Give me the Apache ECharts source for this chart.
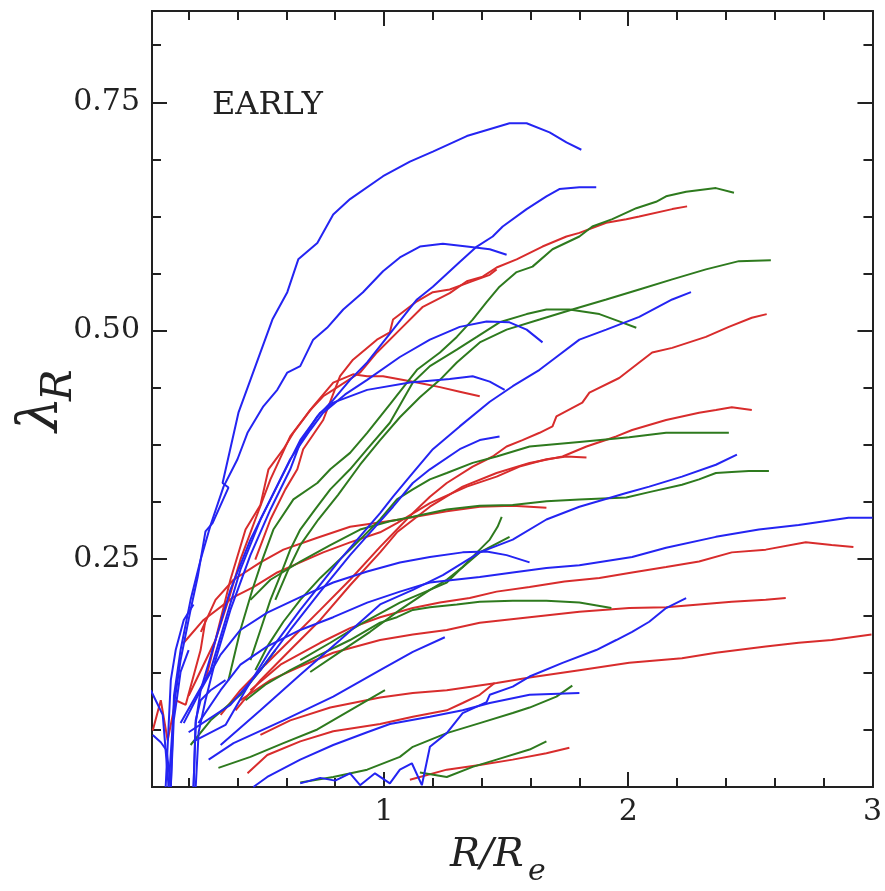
<!DOCTYPE html>
<html><head><meta charset="utf-8">
<script src="https://cdn.jsdelivr.net/npm/echarts@6/dist/echarts.min.js"></script>
<style>html,body{margin:0;padding:0;background:#fff}#c{width:885px;height:891px}</style>
</head><body><div id="c"></div>
<script>
// ---- axis ticks ----
const xMajor = [1, 2, 3];
const xMinor = [0.2,0.4,0.6,0.8,1.2,1.4,1.6,1.8,2.2,2.4,2.6,2.8];
const yMajor = [0.25, 0.5, 0.75];
const yMinor = [0.0625,0.125,0.1875,0.3125,0.375,0.4375,0.5625,0.625,0.6875,0.8125];

// ---- blue curves ----
const blue1 = [[0.118,0],[0.14,0.09],[0.167,0.139],[0.208,0.194],[0.237,0.230],[0.269,0.280],[0.298,0.289],[0.363,0.328],[0.339,0.333],[0.404,0.410],[0.453,0.446],[0.494,0.476],[0.543,0.512],[0.604,0.542],[0.649,0.578],[0.727,0.596],[0.792,0.627],[0.861,0.644],[0.996,0.669],[1.106,0.685],[1.2,0.696],[1.339,0.713],[1.514,0.727],[1.584,0.727],[1.678,0.717],[1.747,0.706],[1.808,0.698]];
const blue2 = [[0.229,0],[0.241,0.06],[0.269,0.095],[0.310,0.139],[0.371,0.194],[0.453,0.254],[0.535,0.304],[0.616,0.348],[0.657,0.377],[0.727,0.406],[0.792,0.424],[0.861,0.446],[0.931,0.465],[1.037,0.501],[1.135,0.534],[1.2,0.548],[1.310,0.575],[1.380,0.592],[1.445,0.603],[1.486,0.614],[1.584,0.633],[1.665,0.647],[1.718,0.655],[1.8,0.657],[1.869,0.657]];
const blue3 = [[0.127,0],[0.14,0.1],[0.167,0.150],[0.208,0.205],[0.249,0.249],[0.290,0.287],[0.343,0.329],[0.400,0.359],[0.441,0.388],[0.506,0.417],[0.563,0.435],[0.604,0.454],[0.657,0.461],[0.710,0.490],[0.767,0.503],[0.833,0.523],[0.914,0.542],[0.996,0.565],[1.065,0.580],[1.147,0.592],[1.241,0.595],[1.339,0.592],[1.433,0.589],[1.502,0.583]];
const blue4 = [[0.220,0],[0.229,0.07],[0.249,0.106],[0.310,0.161],[0.371,0.216],[0.453,0.271],[0.535,0.315],[0.616,0.359],[0.698,0.391],[0.751,0.410],[0.841,0.430],[0.931,0.446],[1.065,0.471],[1.188,0.490],[1.310,0.504],[1.420,0.510],[1.514,0.509],[1.584,0.501],[1.649,0.487]];
const blue5 = [[0.22,0.05],[0.351,0.068],[0.433,0.106],[0.535,0.150],[0.657,0.194],[0.820,0.249],[0.984,0.300],[1.037,0.318],[1.118,0.344],[1.2,0.370],[1.310,0.395],[1.433,0.422],[1.527,0.439],[1.637,0.457],[1.706,0.471],[1.8,0.490],[1.910,0.501],[2.045,0.515],[2.180,0.534],[2.257,0.542]];
const blue6 = [[0.167,0.07],[0.290,0.128],[0.351,0.183],[0.412,0.238],[0.494,0.293],[0.576,0.337],[0.657,0.380],[0.739,0.410],[0.792,0.421],[0.931,0.435],[1.106,0.443],[1.269,0.447],[1.363,0.450],[1.433,0.444],[1.494,0.435]];
const blue7 = [[0.2,0.06],[0.371,0.090],[0.494,0.128],[0.616,0.172],[0.739,0.214],[0.861,0.254],[0.984,0.291],[1.037,0.307],[1.118,0.333],[1.188,0.348],[1.310,0.370],[1.392,0.380],[1.473,0.384]];
const blue8 = [[0.18,0.07],[0.249,0.106],[0.331,0.145],[0.412,0.172],[0.522,0.191],[0.657,0.208],[0.792,0.224],[0.931,0.236],[1.065,0.246],[1.188,0.252],[1.322,0.257],[1.420,0.258],[1.502,0.254],[1.596,0.246]];
const blue9 = [[0.24,0.07],[0.331,0.106],[0.412,0.134],[0.522,0.154],[0.657,0.172],[0.792,0.186],[0.931,0.202],[1.065,0.214],[1.188,0.224],[1.392,0.230],[1.527,0.235],[1.665,0.240],[1.8,0.243],[2.016,0.252],[2.155,0.262],[2.359,0.274],[2.535,0.282],[2.698,0.287],[2.902,0.295],[3.0,0.295]];
const blue10 = [[0.657,0.004],[0.739,0.010],[0.8,0.007],[0.861,0.015],[0.902,0.002],[0.963,0.015],[1.024,0.004],[1.065,0.019],[1.114,0.026],[1.155,0.002],[1.188,0.044],[1.257,0.059],[1.322,0.081],[1.420,0.093],[1.433,0.101],[1.527,0.110],[1.596,0.121],[1.731,0.136],[1.869,0.150],[1.951,0.161],[2.016,0.170],[2.086,0.181],[2.155,0.196],[2.237,0.207]];
const blue11 = [[0.465,0],[0.522,0.011],[0.657,0.030],[0.792,0.046],[0.931,0.060],[1.024,0.069],[1.188,0.077],[1.322,0.084],[1.433,0.092],[1.596,0.101],[1.8,0.103]];
const blue12 = [[0.282,0.030],[0.384,0.048],[0.588,0.073],[0.792,0.099],[0.984,0.128],[1.118,0.148],[1.249,0.164]];
const blue13 = [[0.331,0.046],[0.494,0.084],[0.657,0.123],[0.820,0.161],[0.984,0.200],[1.118,0.216],[1.241,0.232],[1.392,0.257],[1.527,0.271],[1.665,0.293],[1.8,0.307],[1.992,0.322],[2.086,0.329],[2.220,0.340],[2.359,0.353],[2.445,0.364]];
const blueS1 = [[0.045,0.106],[0.065,0.095],[0.094,0.079],[0.118,0.0]];
const blueS2 = [[0.053,0.057],[0.086,0.049],[0.110,0.040],[0.127,0.0],[0.139,0.073],[0.151,0.095],[0.167,0.126],[0.2,0.15]];
const blueS3 = [[0.106,0],[0.127,0.117],[0.147,0.150],[0.180,0.183],[0.22,0.2]];
const blueS4 = [[0.220,0],[0.229,0.073],[0.249,0.095],[0.290,0.106],[0.351,0.117]];

// ---- red curves ----
const red1 = [[0.2,0.1],[0.310,0.161],[0.371,0.227],[0.433,0.282],[0.494,0.309],[0.527,0.348],[0.588,0.370],[0.629,0.388],[0.698,0.413],[0.751,0.428],[0.792,0.435],[0.902,0.454],[0.971,0.476],[1.065,0.501],[1.159,0.526],[1.269,0.541],[1.339,0.554],[1.404,0.559],[1.461,0.569],[1.543,0.578],[1.649,0.592],[1.747,0.603],[1.800,0.607],[1.910,0.618],[1.992,0.622],[2.045,0.625],[2.180,0.633],[2.241,0.636]];
const red2 = [[0.473,0.249],[0.535,0.293],[0.596,0.326],[0.645,0.348],[0.669,0.370],[0.751,0.402],[0.820,0.450],[0.873,0.468],[0.971,0.490],[1.024,0.498],[1.037,0.512],[1.135,0.532],[1.2,0.542],[1.269,0.545],[1.351,0.553],[1.433,0.561],[1.461,0.567]];
const red3 = [[0.269,0.117],[0.310,0.161],[0.363,0.205],[0.412,0.249],[0.473,0.293],[0.535,0.337],[0.616,0.384],[0.710,0.417],[0.792,0.443],[0.873,0.452],[0.931,0.450],[0.996,0.450],[1.135,0.443],[1.229,0.438],[1.310,0.433],[1.392,0.428]];
const red4 = [[0.331,0.079],[0.412,0.106],[0.514,0.134],[0.616,0.161],[0.739,0.194],[0.861,0.227],[0.984,0.263],[1.053,0.282],[1.118,0.300],[1.188,0.318],[1.257,0.333],[1.363,0.351],[1.445,0.362],[1.502,0.373],[1.567,0.380],[1.637,0.388],[1.690,0.395],[1.706,0.406],[1.812,0.421],[1.841,0.432],[1.963,0.448],[2.045,0.465],[2.098,0.476],[2.180,0.481],[2.318,0.493],[2.412,0.504],[2.506,0.514],[2.567,0.518]];
const red5 = [[0.392,0.084],[0.494,0.117],[0.616,0.150],[0.739,0.183],[0.861,0.221],[0.984,0.257],[1.053,0.279],[1.188,0.307],[1.322,0.329],[1.461,0.344],[1.596,0.355],[1.731,0.362],[1.829,0.373],[1.951,0.384],[2.016,0.391],[2.155,0.402],[2.290,0.410],[2.359,0.413],[2.424,0.416],[2.506,0.413]];
const red6 = [[0.180,0.158],[0.261,0.183],[0.384,0.208],[0.465,0.219],[0.563,0.235],[0.657,0.246],[0.751,0.257],[0.861,0.268],[0.984,0.279],[1.053,0.289],[1.188,0.311],[1.339,0.329],[1.461,0.340],[1.555,0.351],[1.665,0.359],[1.747,0.362],[1.829,0.361]];
const red7 = [[0.25,0.17],[0.31,0.205],[0.384,0.227],[0.494,0.246],[0.588,0.260],[0.727,0.273],[0.861,0.285],[1.065,0.293],[1.257,0.302],[1.392,0.307],[1.527,0.308],[1.665,0.306]];
const red8 = [[0.453,0.106],[0.576,0.134],[0.739,0.158],[0.861,0.174],[0.984,0.186],[1.118,0.196],[1.229,0.202],[1.351,0.207],[1.461,0.214],[1.596,0.219],[1.739,0.225],[1.882,0.229],[2.016,0.235],[2.155,0.241],[2.290,0.247],[2.424,0.257],[2.563,0.260],[2.727,0.268],[2.833,0.265],[2.922,0.263]];
const red9 = [[0.412,0.095],[0.535,0.117],[0.657,0.132],[0.792,0.147],[0.984,0.161],[1.118,0.167],[1.257,0.172],[1.392,0.180],[1.596,0.186],[1.8,0.192],[2.004,0.196],[2.155,0.197],[2.290,0.200],[2.424,0.203],[2.563,0.205],[2.645,0.207]];
const red10 = [[0.494,0.057],[0.616,0.073],[0.780,0.087],[0.984,0.098],[1.118,0.103],[1.257,0.106],[1.461,0.114],[1.596,0.120],[1.8,0.128],[2.004,0.136],[2.220,0.141],[2.359,0.147],[2.563,0.154],[2.698,0.158],[2.833,0.161],[2.996,0.167]];
const red11 = [[0.441,0.015],[0.522,0.035],[0.657,0.050],[0.792,0.061],[0.984,0.069],[1.118,0.077],[1.257,0.084],[1.322,0.092],[1.392,0.101],[1.453,0.114]];
const red12 = [[1.106,0.008],[1.257,0.019],[1.392,0.024],[1.527,0.030],[1.665,0.037],[1.759,0.043]];
const redS1 = [[0.053,0.062],[0.086,0.095],[0.114,0.051],[0.147,0.095],[0.188,0.090],[0.249,0.150],[0.269,0.183]];

// ---- green curves ----
const green1 = [[0.363,0.117],[0.412,0.172],[0.461,0.216],[0.502,0.249],[0.547,0.282],[0.629,0.315],[0.727,0.333],[0.780,0.348],[0.861,0.366],[0.931,0.388],[1.024,0.419],[1.135,0.457],[1.229,0.476],[1.298,0.493],[1.363,0.512],[1.420,0.531],[1.473,0.548],[1.543,0.564],[1.608,0.570],[1.690,0.589],[1.8,0.603],[1.853,0.614],[1.935,0.622],[2.033,0.634],[2.114,0.641],[2.155,0.647],[2.237,0.652],[2.359,0.656],[2.433,0.651]];
const green2 = [[0.453,0.139],[0.494,0.172],[0.535,0.205],[0.576,0.232],[0.616,0.260],[0.657,0.282],[0.718,0.304],[0.780,0.326],[0.861,0.348],[0.931,0.370],[1.024,0.399],[1.118,0.443],[1.188,0.461],[1.298,0.479],[1.380,0.493],[1.473,0.509],[1.584,0.518],[1.665,0.523],[1.759,0.523],[1.882,0.518],[1.963,0.510],[2.033,0.503]];
const green3 = [[0.555,0.205],[0.608,0.238],[0.657,0.265],[0.731,0.293],[0.812,0.320],[0.902,0.353],[0.984,0.380],[1.065,0.405],[1.147,0.427],[1.229,0.446],[1.298,0.465],[1.392,0.487],[1.502,0.501],[1.637,0.512],[1.771,0.523],[1.910,0.534],[2.045,0.545],[2.180,0.556],[2.318,0.567],[2.453,0.576],[2.584,0.577]];
const green4 = [[0.473,0.128],[0.527,0.156],[0.588,0.181],[0.657,0.205],[0.739,0.229],[0.861,0.260],[0.984,0.293],[1.053,0.315],[1.118,0.326],[1.188,0.337],[1.257,0.344],[1.363,0.355],[1.461,0.362],[1.596,0.373],[1.8,0.378],[2.004,0.383],[2.155,0.388],[2.412,0.388]];
const green5 = [[0.453,0.205],[0.535,0.227],[0.657,0.247],[0.780,0.265],[0.902,0.282],[1.024,0.291],[1.118,0.296],[1.257,0.304],[1.392,0.308],[1.527,0.309],[1.665,0.313],[1.8,0.315],[1.992,0.317],[2.086,0.323],[2.220,0.331],[2.290,0.337],[2.359,0.344],[2.424,0.345],[2.494,0.346],[2.576,0.346]];
const green6 = [[0.433,0.095],[0.514,0.112],[0.616,0.128],[0.739,0.145],[0.861,0.161],[0.984,0.180],[1.053,0.186],[1.118,0.194],[1.188,0.197],[1.298,0.200],[1.392,0.203],[1.527,0.204],[1.665,0.204],[1.8,0.202],[1.931,0.196]];
const green7 = [[0.698,0.126],[0.820,0.148],[0.943,0.170],[1.065,0.194],[1.188,0.216],[1.257,0.227],[1.322,0.241],[1.392,0.260],[1.433,0.271],[1.465,0.285],[1.482,0.296]];
const green8 = [[0.657,0.139],[0.780,0.158],[0.902,0.178],[1.065,0.202],[1.188,0.216],[1.257,0.224],[1.310,0.238],[1.392,0.257],[1.514,0.274]];
const green9 = [[0.657,0.005],[0.792,0.011],[0.931,0.019],[1.065,0.033],[1.118,0.044],[1.257,0.059],[1.392,0.070],[1.527,0.081],[1.596,0.087],[1.706,0.099],[1.771,0.111]];
const green10 = [[1.147,0.016],[1.257,0.011],[1.363,0.022],[1.461,0.030],[1.596,0.041],[1.665,0.050]];
const green11 = [[0.322,0.021],[0.453,0.033],[0.588,0.048],[0.727,0.063],[0.861,0.084],[1.004,0.106]];
const greenS1 = [[0.208,0.046],[0.290,0.073],[0.412,0.101],[0.494,0.128],[0.555,0.150]];

const BLUE = '#2424f2', RED = '#d82c2c', GREEN = '#2e7a1e';
const reds = [red1,red2,red3,red4,red5,red6,red7,red8,red9,red10,red11,red12,redS1];
const greens = [green1,green2,green3,green4,green5,green6,green7,green8,green9,green10,green11,greenS1];
const blues = [blue1,blue2,blue3,blue4,blue5,blue6,blue7,blue8,blue9,blue10,blue11,blue12,blue13,blueS1,blueS2,blueS3,blueS4];

const series = [];
function add(arr, color) {
  arr.forEach(d => series.push({
    type: 'line', data: d, showSymbol: false, symbol: 'none',
    lineStyle: { color: color, width: 2 }, itemStyle: { color: color },
    xAxisIndex: 0, yAxisIndex: 0, clip: true, silent: true, animation: false
  }));
}
add(reds, RED); add(greens, GREEN); add(blues, BLUE);

const AX = '#222';
const FONT = 'DejaVu Serif';
function xAx(pos, vals, len, labels) {
  return {
    type: 'value', position: pos, min: 0.05, max: 3,
    axisLine: { show: true, onZero: false, lineStyle: { color: AX, width: 2 } },
    axisTick: { show: true, inside: true, length: len, customValues: vals, lineStyle: { color: AX, width: 2 } },
    axisLabel: labels ? { show: true, customValues: xMajor, formatter: v => String(v), fontFamily: FONT, fontSize: 30, color: '#222', margin: 10 } : { show: false },
    splitLine: { show: false }
  };
}
function yAx(pos, vals, len, labels) {
  return {
    type: 'value', position: pos, min: 0, max: 0.85,
    axisLine: { show: true, onZero: false, lineStyle: { color: AX, width: 2 } },
    axisTick: { show: true, inside: true, length: len, customValues: vals, lineStyle: { color: AX, width: 2 } },
    axisLabel: labels ? { show: true, customValues: yMajor, formatter: v => v.toFixed(2), fontFamily: FONT, fontSize: 30, color: '#222', margin: 12 } : { show: false },
    splitLine: { show: false }
  };
}

const chart = echarts.init(document.getElementById('c'), null, { renderer: 'canvas' });
chart.setOption({
  backgroundColor: '#fff',
  animation: false,
  grid: { left: 152, right: 11, top: 11, bottom: 104, containLabel: false },
  xAxis: [xAx('bottom', xMinor, 9, false), xAx('bottom', xMajor, 15, true), xAx('top', xMinor, 9, false), xAx('top', xMajor, 15, false)],
  yAxis: [yAx('left', yMinor, 9, false), yAx('left', yMajor, 15, true), yAx('right', yMinor, 9, false), yAx('right', yMajor, 15, false)],
  series: series,
  graphic: [
    { type: 'text', left: 212, top: 90, style: { text: 'EARLY', font: '32px "DejaVu Serif"', fill: '#222' } },
    { type: 'text', x: 450, y: 856, style: { text: 'R/R', font: 'italic 40px "DejaVu Serif"', fill: '#222', textVerticalAlign: 'middle', textAlign: 'left' } },
    { type: 'text', x: 528, y: 872, style: { text: 'e', font: 'italic 30px "DejaVu Serif"', fill: '#222', textVerticalAlign: 'middle', textAlign: 'left' } },
    { type: 'text', x: 42, y: 432, rotation: Math.PI / 2, style: { text: 'λ', font: 'italic 56px "DejaVu Serif"', fill: '#222', textVerticalAlign: 'middle', textAlign: 'left' } },
    { type: 'text', x: 60, y: 401, rotation: Math.PI / 2, style: { text: 'R', font: 'italic 42px "DejaVu Serif"', fill: '#222', textVerticalAlign: 'middle', textAlign: 'left' } }
  ]
});
</script>
</body></html>
